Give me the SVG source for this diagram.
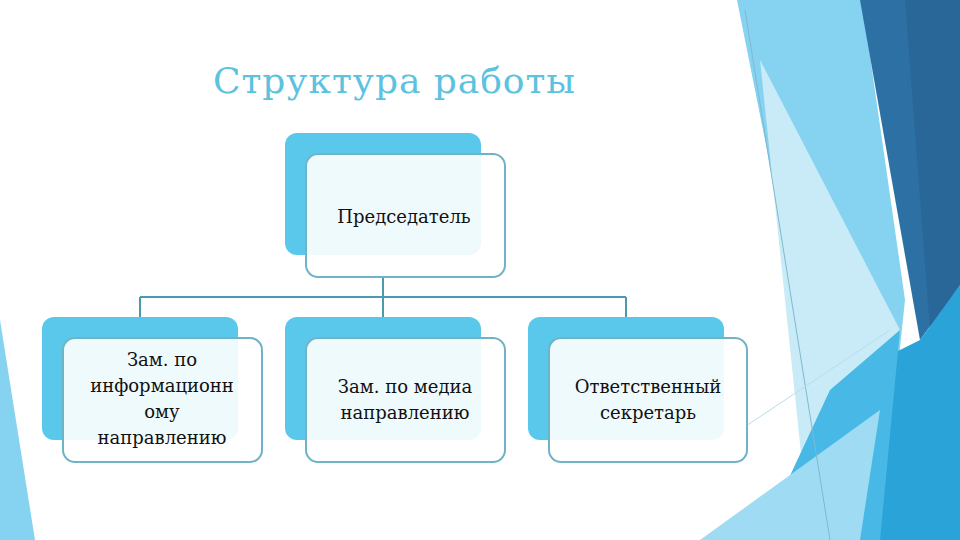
<svg xmlns="http://www.w3.org/2000/svg" width="960" height="540" viewBox="0 0 960 540">
<style>
.back{fill:#5ac8ea}
.front{fill:#ffffff;fill-opacity:0.9;stroke:#6fb3c6;stroke-width:2}
.t{font-family:"DejaVu Serif","Liberation Serif",serif;font-size:18px;fill:#111;text-anchor:middle}
.c{stroke:#4a9ab0;stroke-width:2;fill:none}
</style>
<rect width="960" height="540" fill="#fff"/>
<g id="decor">
<polygon points="737,0 862,0 905,300 880,540 845,540" fill="#86d2f1"/>
<polygon points="760,60 900,330 860,540 810,540" fill="#c9ebf8"/>
<polygon points="860,0 960,0 960,285 920,340" fill="#2c70a4"/>
<polygon points="905,0 960,0 960,285 930,330" fill="#2a6799"/>
<polygon points="920,340 960,285 960,540 760,540 880,360" fill="#2aa3d8"/>
<polygon points="830,390 900,330 880,540 760,540" fill="#48b8e6"/>
<polygon points="700,540 880,410 860,540" fill="#9fdcf4"/>
<polygon points="0,320 35,540 0,540" fill="#86d2f1"/>
<line x1="745" y1="10" x2="830" y2="540" stroke="#7fb9cf" stroke-width="1"/>
<line x1="740" y1="430" x2="890" y2="330" stroke="#b8dcea" stroke-width="1"/>
</g>
<text x="213" y="93" font-family="DejaVu Serif,Liberation Serif,serif" font-size="36" fill="#5bc2e0" textLength="362">Структура работы</text>
<g id="connectors">
<path class="c" d="M383,277V317M140,297H626M140,297V317M626,297V317"/>
</g>
<g id="n1"><rect class="back" x="285" y="133" width="196" height="122" rx="12"/><rect class="front" x="306" y="154" width="199" height="123" rx="12"/><text class="t" x="404" y="223">Председатель</text></g>
<g id="n2"><rect class="back" x="42" y="317" width="196" height="123" rx="12"/><rect class="front" x="63" y="338" width="199" height="124" rx="12"/><text class="t" x="162" y="366">Зам. по</text><text class="t" x="162" y="392">информационн</text><text class="t" x="162" y="418">ому</text><text class="t" x="162" y="444">направлению</text></g>
<g id="n3"><rect class="back" x="285" y="317" width="196" height="123" rx="12"/><rect class="front" x="306" y="338" width="199" height="124" rx="12"/><text class="t" x="405" y="393">Зам. по медиа</text><text class="t" x="405" y="419">направлению</text></g>
<g id="n4"><rect class="back" x="528" y="317" width="196" height="123" rx="12"/><rect class="front" x="549" y="338" width="198" height="124" rx="12"/><text class="t" x="648" y="393">Ответственный</text><text class="t" x="648" y="419">секретарь</text></g>
</svg>
